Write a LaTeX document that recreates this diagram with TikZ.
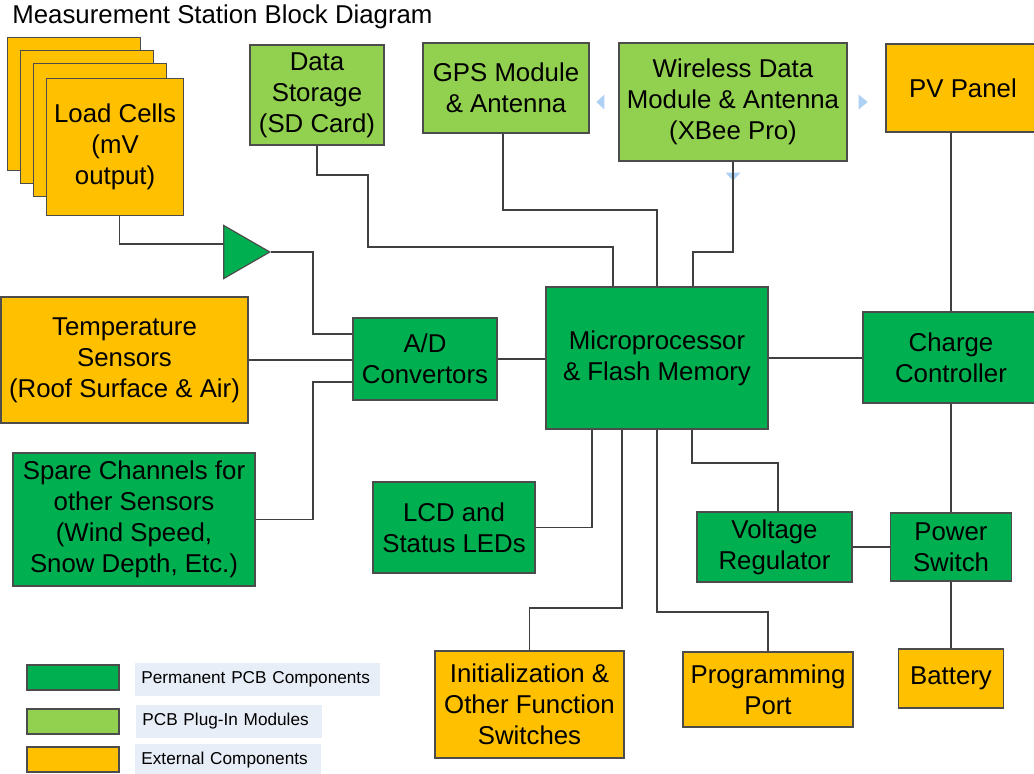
\documentclass[tikz,border=0pt]{standalone}
\usepackage{fontspec}
\setmainfont{Liberation Sans}
\usetikzlibrary{shapes.geometric}

\definecolor{pcbgreen}{RGB}{0,176,80}
\definecolor{pluggreen}{RGB}{146,208,80}
\definecolor{extorange}{RGB}{255,192,0}
\definecolor{legbg}{RGB}{232,238,247}
\definecolor{handleblue}{RGB}{173,208,245}

\newcommand\boxfont{\fontsize{12.9}{15.5}\selectfont}
\newcommand\legfont{\fontsize{8.6}{10}\selectfont}

\tikzset{
  blk/.style 2 args={draw=black!70, line width=0.6pt, minimum width=#1*0.5pt,
    minimum height=#2*0.5pt, inner sep=0pt, align=center, font=\boxfont},
  pcb/.style 2 args={blk={#1}{#2}, fill=pcbgreen},
  plug/.style 2 args={blk={#1}{#2}, fill=pluggreen},
  ext/.style 2 args={blk={#1}{#2}, fill=extorange},
  amp/.style={isosceles triangle, isosceles triangle apex angle=60,
    isosceles triangle stretches, fill=pcbgreen, draw=black!70, line width=0.6pt,
    minimum height=46*0.5pt, minimum width=53*0.5pt, inner sep=0pt},
  legtxt/.style={fill=legbg, anchor=west, minimum height=16.5pt, text width=#1,
    inner xsep=3pt, align=left, font=\legfont},
  wire/.style={draw=black!75, line width=0.6pt},
  handle/.style={fill=handleblue}
}

\begin{document}
\begin{tikzpicture}[x=0.5pt,y=-0.5pt]
  \useasboundingbox (0,0) rectangle (1034,773);

  \node[anchor=west, inner sep=0pt, font=\boxfont] (title) at (12,17) {Measurement Station Block Diagram};

  % load cells (stacked)
  \foreach \x/\y [count=\i] in {7/37,20/50,33/63}
    \node[ext={133}{133}, anchor=north west] (lc\i) at (\x,\y) {};
  \node[ext={137}{137}, anchor=north west] (lc) at (46,78) {Load Cells\\(mV\\output)};
  \node[amp, anchor=apex] (amp) at (271,252) {};

  % sensors and converter
  \node[ext={247}{126}] (temp) at (124.5,360) {Temperature\\Sensors\\(Roof Surface \& Air)};
  \node[pcb={242}{133}] (spare) at (134,519.5) {Spare Channels for\\other Sensors\\(Wind Speed,\\Snow Depth, Etc.)};
  \node[pcb={144}{82}] (ad) at (425,359) {A/D\\Convertors};
  \node[pcb={222}{142}] (micro) at (657,358) {Microprocessor\\\& Flash Memory};

  % plug-in modules
  \node[plug={134}{100}] (ds) at (317,95) {Data\\Storage\\(SD Card)};
  \node[plug={166}{90}] (gps) at (506,88) {GPS Module\\\& Antenna};
  \node[plug={228}{118}] (wl) at (733,102) {Wireless Data\\Module \& Antenna\\(XBee Pro)};

  % power
  \node[ext={154}{88}] (pv) at (963,88) {PV Panel};
  \node[pcb={176}{91}] (charge) at (951,357.5) {Charge\\Controller};
  \node[pcb={155}{70}] (vr) at (774.5,547) {Voltage\\Regulator};
  \node[pcb={121}{68}] (power) at (951,547) {Power\\Switch};
  \node[ext={105}{59}] (battery) at (951,678.5) {Battery};

  % user interface
  \node[pcb={162}{91}] (lcd) at (454,527.5) {LCD and\\Status LEDs};
  \node[ext={189}{107}] (init) at (529.5,704.5) {Initialization \&\\Other Function\\Switches};
  \node[ext={170}{75}] (prog) at (768,689.5) {Programming\\Port};

  % legend
  \node[pcb={92}{25}] (key1) at (73,677.5) {};
  \node[plug={92}{25}] (key2) at (73,721.5) {};
  \node[ext={92}{25}] (key3) at (73,759.5) {};
  \node[legtxt=116.5pt] (key1t) at (135,679.5) {Permanent PCB Components};
  \node[legtxt=87pt] (key2t) at (136,721.5) {PCB Plug-In Modules};
  \node[legtxt=87pt] (key3t) at (135,760) {External Components};

  % selection handles round the wireless module
  \fill[handle] ([xshift=-11pt]wl.west) -- ++(4pt,3.75pt) -- ++(0,-7.5pt) -- cycle;
  \fill[handle] ([xshift=10pt]wl.east) -- ++(-4.5pt,3.75pt) -- ++(0,-7.5pt) -- cycle;
  \fill[handle] ([yshift=-9.5pt]wl.south) -- ++(-3.75pt,4pt) -- ++(7.5pt,0) -- cycle;

  % signal wiring
  \draw[wire] ([xshift=2.25pt]lc.south) |- ([yshift=4pt]amp.west);
  \draw[wire] (amp.apex) -| (313,300) |- ([yshift=12.5pt]ad.west);
  \draw[wire] (temp.east) -- (temp.east -| ad.west);
  \draw[wire] (spare.east) -| (313,450) |- ([yshift=-11.5pt]ad.west);
  \draw[wire] (ad.east) -- (ad.east -| micro.west);
  \draw[wire] (ds.south) |- (368,175) |- (613,247) -- ([xshift=-22pt]micro.north);
  \draw[wire] ([xshift=-1.5pt]gps.south) |- (657,210) -- (micro.north);
  \draw[wire] (wl.south) |- (693,252) -- ([xshift=18pt]micro.north);
  \draw[wire] ([xshift=-32.5pt]micro.south) |- (lcd.east);
  \draw[wire] ([xshift=-17.5pt]micro.south) |- (529.5,608) -- (init.north);
  \draw[wire] (micro.south) |- (768,612) -- (prog.north);
  \draw[wire] ([xshift=17.5pt]micro.south) |- (778,463) -- ([xshift=1.75pt]vr.north);

  % power wiring
  \draw[wire] (micro.east) -- (micro.east -| charge.west);
  \draw[wire] (charge.north |- pv.south) -- (charge.north);
  \draw[wire] (charge.south) -- (power.north);
  \draw[wire] (vr.east) -- (power.west);
  \draw[wire] (power.south) -- (battery.north);
\end{tikzpicture}
\end{document}
